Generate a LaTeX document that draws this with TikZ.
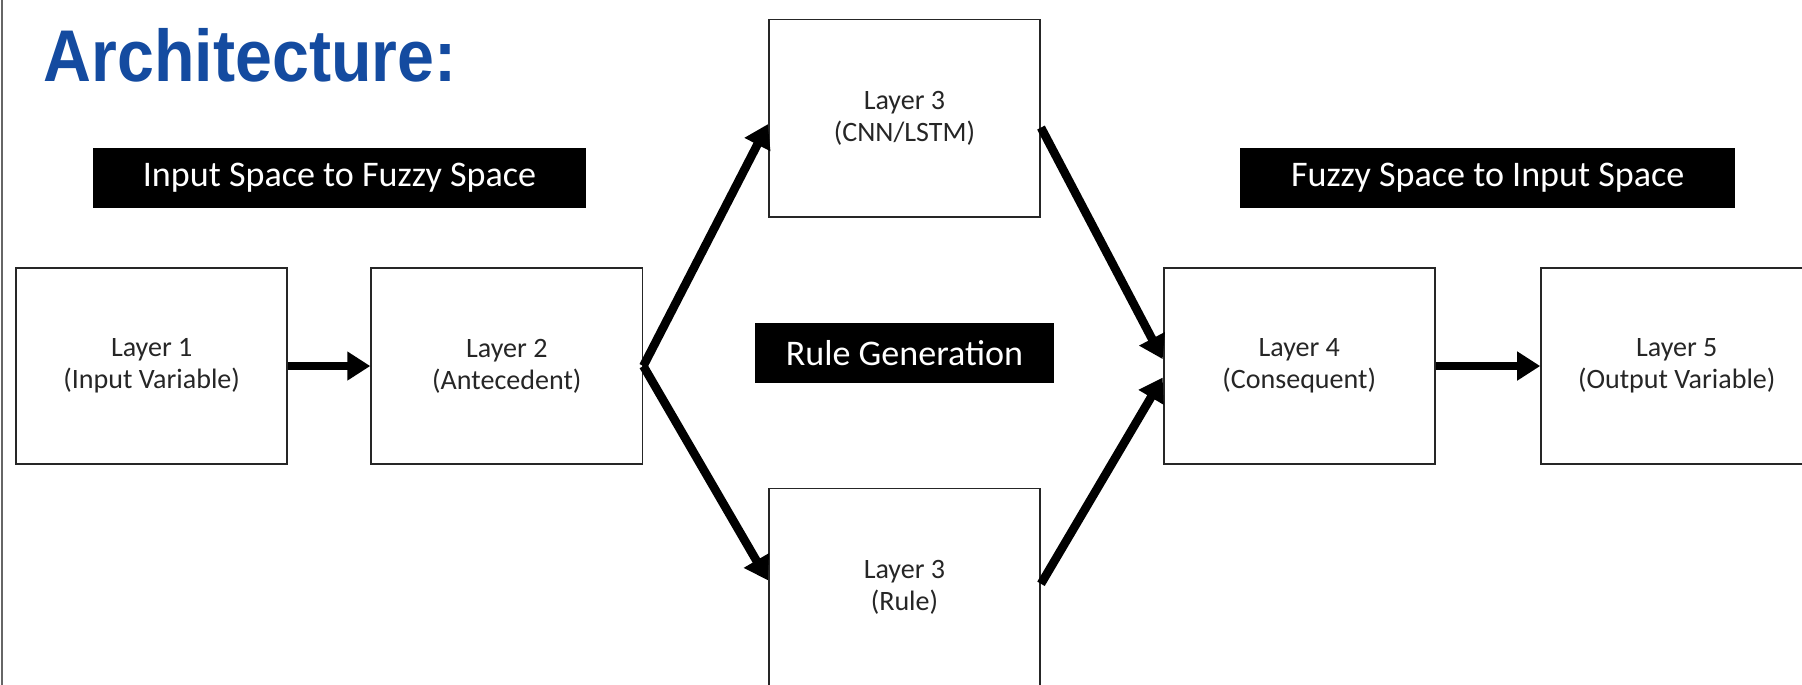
\documentclass[tikz,border=0pt]{standalone}
\usepackage{fontspec}
\setmainfont{Carlito}
\newfontfamily\titlefont{Liberation Sans}
\usetikzlibrary{arrows.meta,calc}
\definecolor{titleblue}{RGB}{20,75,160}
\begin{document}
\begin{tikzpicture}[x=1bp,y=-1bp,
  layer/.style={draw=black!85, line width=1.6bp, minimum width=236bp, minimum height=171bp, inner sep=0pt, align=center, font=\fontsize{24.5}{28}\selectfont, text=black!85},
  tag/.style={fill=black, text=white, inner sep=0pt, font=\fontsize{31.5}{36}\selectfont},
  conn/.style={line width=7.5bp, -{Triangle[length=20bp,width=24bp]}}]
\useasboundingbox (0,0) rectangle (1568,596);
\clip (0,0) rectangle (1568,596);
\fill[white] (0,0) rectangle (1568,596);
\draw[line width=1.5bp, black!60] (2,0) -- (2,596);
\node[anchor=base west, inner sep=0pt, text=titleblue, font=\titlefont\bfseries\fontsize{64}{70}\selectfont] (title) at (38,71) {\scalebox{0.905}[1]{Architecture:}};
\node[tag, minimum width=429bp, minimum height=52bp] (t1) at (295.5,155) {Input Space to Fuzzy Space};
\node[tag, minimum width=431bp, minimum height=52bp] (t2) at (1294.5,155) {Fuzzy Space to Input Space};
\node[tag, minimum width=260bp, minimum height=52bp] (t3) at (787,307) {Rule Generation};
\node[layer] (l1) at (132,318.5) {Layer 1\\(Input Variable)};
\node[layer] (l2) at (441,318.5) {Layer 2\\(Antecedent)};
\node[layer, minimum height=172bp] (l3t) at (787,103) {Layer 3\\(CNN/LSTM)};
\node[layer, minimum height=172bp] (l3b) at (787,511) {Layer 3\\(Rule)};
\node[layer] (l4) at (1130.5,318.5) {Layer 4\\(Consequent)};
\node[layer] (l5) at (1459,318.5) {Layer 5\\(Output Variable)};
\draw[conn] (l1.east) -- (l2.west);
\draw[conn] (l2.east) -- ($(l3t.west)+(0,5)$);
\draw[conn] (l2.east) -- ($(l3b.west)+(0,-6)$);
\draw[conn] ($(l3t.east)+(0,8)$) -- ($(l4.west)+(0,-6)$);
\draw[conn] ($(l3b.east)+(0,-3)$) -- ($(l4.west)+(0,10)$);
\draw[conn] (l4.east) -- (l5.west);
\end{tikzpicture}
\end{document}
